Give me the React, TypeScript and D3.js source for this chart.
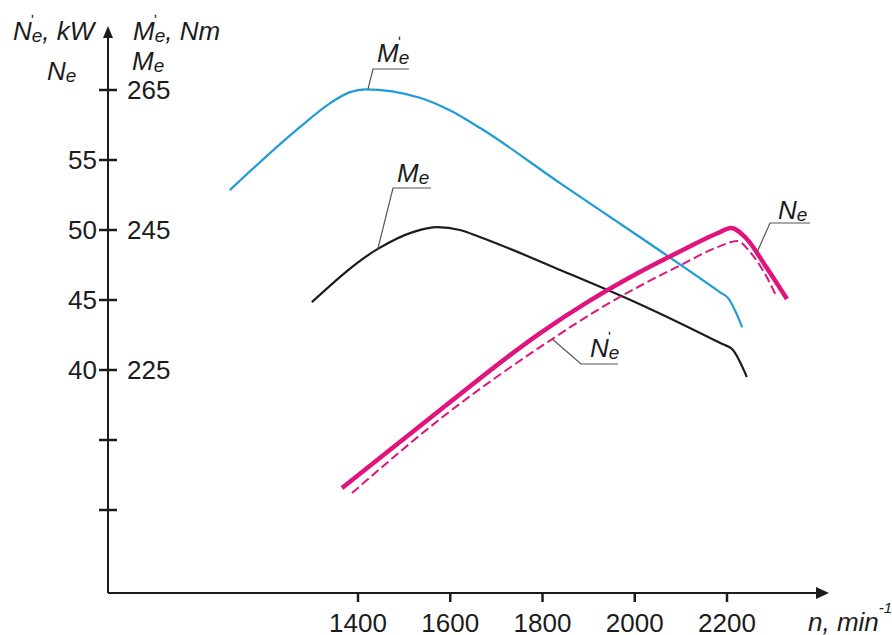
import React from "react";
import * as d3 from "d3";

// ---- data ----
const xTicks = [1400, 1600, 1800, 2000, 2200];
const nTicks = [30, 35, 40, 45, 50, 55, 60];
const nLabels = [40, 45, 50, 55];
const mLabels = [225, 245, 265];

// M'e, Nm (blue)
const rpmMe1 = [1122, 1274, 1339, 1383, 1415, 1534, 1599, 1664, 1838, 2011, 2185, 2202, 2233];
const valMe1 = [250.7, 259.7, 263.1, 264.7, 265.1, 263.9, 262.1, 259.6, 251.7, 244.0, 236.1, 235.3, 231.1];

// Me, Nm (black)
const rpmMe = [1300, 1443, 1519, 1573, 1621, 1664, 1838, 2011, 2190, 2211, 2243];
const valMe = [234.7, 242.3, 244.7, 245.4, 245.0, 244.0, 239.3, 234.4, 228.7, 228.0, 224.0];

// Ne, kW (solid)
const rpmNe = [1365, 1578, 1795, 1900, 2011, 2100, 2178, 2209, 2241, 2285, 2330];
const valNe = [31.57, 37.14, 42.64, 44.9, 47.0, 48.5, 49.75, 50.14, 49.43, 47.36, 45.07];

// N'e, kW (dashed)
const rpmNe1 = [1387, 1578, 1821, 1920, 2011, 2100, 2185, 2222, 2250, 2280, 2308];
const valNe1 = [31.21, 36.5, 42.21, 44.3, 46.0, 47.5, 48.85, 49.21, 48.43, 47.0, 45.21];

// ---- layout ----
const W = 892, H = 635;
const FONT = "'Liberation Sans', Arial, sans-serif";
const BLUE = "#1f9bd9";
const PINK = "#e1137c";
const INK = "#1c1c1c";
const FS = 26;

const x = d3.scaleLinear().domain([1400, 2200]).range([358, 727]);
const yN = d3.scaleLinear().domain([30, 60]).range([510, 90]);
const yM = d3.scaleLinear().domain([225, 265]).range([370, 90]);
const axisX = 108;
const axisY = 593;

const lineM = d3.line<[number, number]>().x(d => x(d[0])).y(d => yM(d[1])).curve(d3.curveMonotoneX);
const lineN = d3.line<[number, number]>().x(d => x(d[0])).y(d => yN(d[1])).curve(d3.curveMonotoneX);
const zip = (a: number[], b: number[]) => a.map((v, i) => [v, b[i]] as [number, number]);

function SymLabel({ x0, y0, main, prime, suffix }: { x0: number; y0: number; main: string; prime?: boolean; suffix?: string }) {
  const mw = main === "M" ? 21 : 18;
  return (
    <g fontFamily={FONT} fontStyle="italic" fill={INK}>
      <text x={x0} y={y0} fontSize={FS}>
        <tspan>{main}</tspan>
        <tspan fontSize={19} dy={2}>e</tspan>
        {suffix ? <tspan fontSize={FS} dy={-2}>{suffix}</tspan> : null}
      </text>
      {prime ? (
        <text x={x0 + mw} y={y0 - 15} fontSize={15} fontStyle="normal">ʹ</text>
      ) : null}
    </g>
  );
}

function Leader({ px, py, kx, ky, ex }: { px: number; py: number; kx: number; ky: number; ex: number }) {
  return <path d={`M${px},${py}L${kx},${ky}L${ex},${ky}`} fill="none" stroke="#555" strokeWidth={1.2} />;
}

export default function App() {
  const aM1 = [x(1415), yM(265.1)];
  const aM = [x(1443), yM(242.3)];
  const aN = [x(2265), yN(48.4)];
  const aN1 = [x(1821), yN(42.21)];

  return (
    <svg width={W} height={H} style={{ position: "absolute", left: 0, top: 0, background: "#fff" }}>
      <rect width={W} height={H} fill="#fff" />
      {/* axes */}
      <g stroke={INK} strokeWidth={2} fill="none">
        <line x1={axisX} y1={axisY} x2={axisX} y2={36} />
        <line x1={axisX} y1={axisY} x2={818} y2={axisY} />
      </g>
      <path d={`M${axisX},26L${axisX - 5},38L${axisX + 5},38Z`} fill={INK} />
      <path d={`M829,${axisY}L816,${axisY - 6}L816,${axisY + 6}Z`} fill={INK} />

      {/* y ticks */}
      {nTicks.map(t => (
        <line key={t} x1={axisX - 9} x2={axisX + 9} y1={yN(t)} y2={yN(t)} stroke={INK} strokeWidth={2.5} />
      ))}
      {nLabels.map(t => (
        <text key={t} x={97} y={yN(t) + 9} textAnchor="end" fontFamily={FONT} fontSize={FS} fill={INK}>{t}</text>
      ))}
      {mLabels.map(t => (
        <text key={t} x={127} y={yM(t) + 9} fontFamily={FONT} fontSize={FS} fill={INK}>{t}</text>
      ))}

      {/* x ticks */}
      {xTicks.map(t => (
        <g key={t}>
          <line x1={x(t)} x2={x(t)} y1={axisY} y2={axisY + 9} stroke={INK} strokeWidth={2.5} />
          <text x={x(t)} y={632} textAnchor="middle" fontFamily={FONT} fontSize={FS} fill={INK}>{t}</text>
        </g>
      ))}
      <text x={808} y={631} fontFamily={FONT} fontStyle="italic" fontSize={FS} fill={INK}>
        n, min<tspan fontSize={15} dy={-18}>-1</tspan>
      </text>

      {/* axis titles */}
      <SymLabel x0={13} y0={40} main="N" prime suffix=", kW" />
      <SymLabel x0={133} y0={40} main="M" prime suffix=", Nm" />
      <SymLabel x0={47} y0={80} main="N" />
      <SymLabel x0={132} y0={70} main="M" />

      {/* curves */}
      <path d={lineM(zip(rpmMe1, valMe1)) || ""} fill="none" stroke={BLUE} strokeWidth={2.2} strokeLinejoin="round" />
      <path d={lineM(zip(rpmMe, valMe)) || ""} fill="none" stroke={INK} strokeWidth={2.2} strokeLinejoin="round" />
      <path d={lineN(zip(rpmNe1, valNe1)) || ""} fill="none" stroke={PINK} strokeWidth={2} strokeDasharray="9 4" strokeLinejoin="round" />
      <path d={lineN(zip(rpmNe, valNe)) || ""} fill="none" stroke={PINK} strokeWidth={4.5} strokeLinejoin="round" />

      {/* curve labels */}
      <Leader px={aM1[0] + 3} py={aM1[1]} kx={373} ky={69} ex={409} />
      <SymLabel x0={377} y0={62} main="M" prime />
      <Leader px={aM[0]} py={aM[1]} kx={393} ky={188} ex={431} />
      <SymLabel x0={397} y0={182} main="M" />
      <Leader px={aN[0]} py={aN[1]} kx={770} ky={223} ex={810} />
      <SymLabel x0={778} y0={219} main="N" />
      <Leader px={aN1[0]} py={aN1[1]} kx={581} ky={364} ex={618} />
      <SymLabel x0={590} y0={357} main="N" prime />
    </svg>
  );
}
